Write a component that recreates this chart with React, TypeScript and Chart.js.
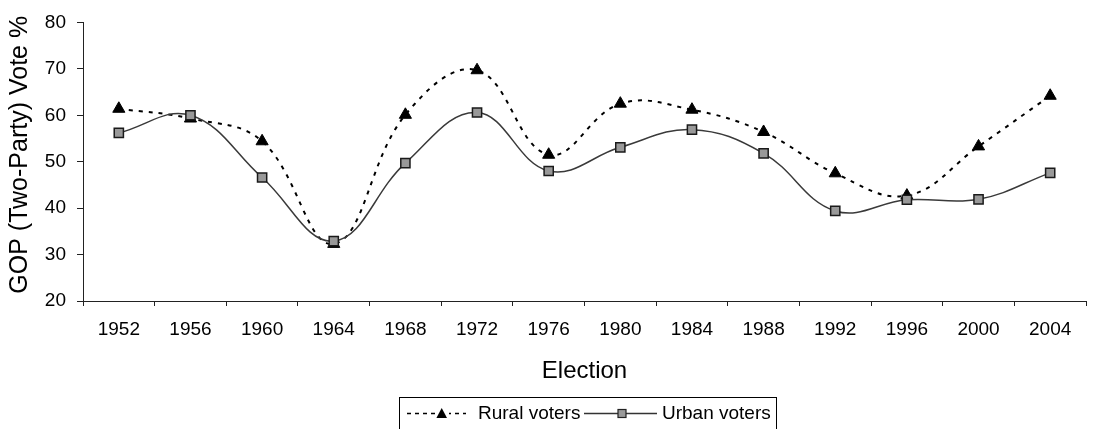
import React, { useEffect, useRef } from "react";
import { Chart, registerables } from "chart.js";

Chart.register(...registerables);

const elections = ["1952", "1956", "1960", "1964", "1968", "1972", "1976", "1980", "1984", "1988", "1992", "1996", "2000", "2004"];
const ruralVotes = [61.4, 59.3, 54.4, 32.3, 60.1, 69.7, 51.5, 62.5, 61.2, 56.4, 47.5, 42.7, 53.3, 64.2];
const urbanVotes = [56.2, 60.0, 46.6, 32.9, 49.7, 60.6, 48.0, 53.1, 56.9, 51.8, 39.4, 41.8, 41.9, 47.6];
const yTicks = [20, 30, 40, 50, 60, 70, 80];

const FONT = "'Liberation Sans', Arial, Helvetica, sans-serif";

const legendPlugin = {
  id: "customLegend",
  afterDraw(chart: any) {
    const ctx = chart.ctx;
    ctx.save();
    // box
    ctx.strokeStyle = "#000";
    ctx.lineWidth = 1;
    ctx.strokeRect(399.5, 397.5, 377, 45);
    const cy = 413.5;
    // rural sample
    ctx.strokeStyle = "#000";
    ctx.lineWidth = 1.5;
    ctx.setLineDash([4, 4]);
    ctx.beginPath();
    ctx.moveTo(407, cy);
    ctx.lineTo(466, cy);
    ctx.stroke();
    ctx.setLineDash([]);
    ctx.fillStyle = "#fff";
    ctx.fillRect(435, cy - 7, 14, 14);
    ctx.fillStyle = "#000";
    ctx.beginPath();
    ctx.moveTo(441.7, cy - 5.5);
    ctx.lineTo(447, cy + 4.5);
    ctx.lineTo(436.4, cy + 4.5);
    ctx.closePath();
    ctx.fill();
    // urban sample
    ctx.strokeStyle = "#333";
    ctx.lineWidth = 1.5;
    ctx.beginPath();
    ctx.moveTo(584, cy);
    ctx.lineTo(657, cy);
    ctx.stroke();
    ctx.fillStyle = "#999";
    ctx.fillRect(618, cy - 4, 8, 8);
    ctx.strokeStyle = "#222";
    ctx.lineWidth = 1.2;
    ctx.strokeRect(618, cy - 4, 8, 8);
    // texts
    ctx.fillStyle = "#000";
    ctx.font = `19px ${FONT}`;
    ctx.textBaseline = "middle";
    ctx.textAlign = "left";
    ctx.fillText("Rural voters", 478, cy);
    ctx.fillText("Urban voters", 662, cy);
    ctx.restore();
  },
};

export default function App() {
  const ref = useRef<HTMLCanvasElement | null>(null);

  useEffect(() => {
    if (!ref.current) return;
    const chart = new Chart(ref.current, {
      type: "line",
      data: {
        labels: elections,
        datasets: [
          {
            label: "Rural voters",
            data: ruralVotes,
            borderColor: "#000",
            borderWidth: 2,
            borderDash: [4, 6],
            tension: 0.4,
            pointStyle: "triangle",
            pointRadius: 7,
            pointBackgroundColor: "#000",
            pointBorderColor: "#000",
            pointBorderWidth: 1,
            order: 2,
            fill: false,
          },
          {
            label: "Urban voters",
            data: urbanVotes,
            borderColor: "#3a3a3a",
            borderWidth: 1.5,
            tension: 0.4,
            pointStyle: "rect",
            pointRadius: 6.5,
            pointBackgroundColor: "#999",
            pointBorderColor: "#1a1a1a",
            pointBorderWidth: 1.5,
            order: 1,
            fill: false,
          },
        ],
      },
      options: {
        responsive: false,
        animation: false,
        layout: { padding: { top: 21, right: 1, left: 0, bottom: 0 } },
        plugins: {
          legend: { display: false },
          tooltip: { enabled: false },
        },
        scales: {
          x: {
            type: "category",
            offset: true,
            afterFit: (s: any) => {
              s.height = 128;
            },
            border: { color: "#222", width: 1 },
            grid: {
              offset: true,
              drawOnChartArea: false,
              drawTicks: true,
              tickLength: 5,
              color: "#222",
            },
            ticks: {
              color: "#000",
              font: { family: FONT, size: 19 },
              padding: 12,
              maxRotation: 0,
              autoSkip: false,
            },
            title: {
              display: true,
              text: "Election",
              color: "#000",
              font: { family: FONT, size: 24, lineHeight: 1.2 },
              padding: { top: 0, bottom: 43 },
            },
          },
          y: {
            min: 20,
            max: 80,
            afterFit: (s: any) => {
              s.width = 83;
            },
            afterBuildTicks: (s: any) => {
              s.ticks = yTicks.map((v) => ({ value: v }));
            },
            border: { color: "#222", width: 1 },
            grid: {
              drawOnChartArea: false,
              drawTicks: true,
              tickLength: 6,
              color: "#222",
            },
            ticks: {
              color: "#000",
              font: { family: FONT, size: 19 },
              padding: 11,
            },
            title: {
              display: true,
              text: "  GOP (Two-Party) Vote %",
              color: "#000",
              font: { family: FONT, size: 25, lineHeight: 1.2 },
              padding: { top: 5, bottom: 0 },
            },
          },
        },
      },
      plugins: [legendPlugin],
    });
    return () => chart.destroy();
  }, []);

  return (
    <div style={{ position: "absolute", left: 0, top: 0, width: 1094, height: 429, background: "#fff" }}>
      <canvas ref={ref} width={1094} height={429} style={{ display: "block" }} />
    </div>
  );
}
